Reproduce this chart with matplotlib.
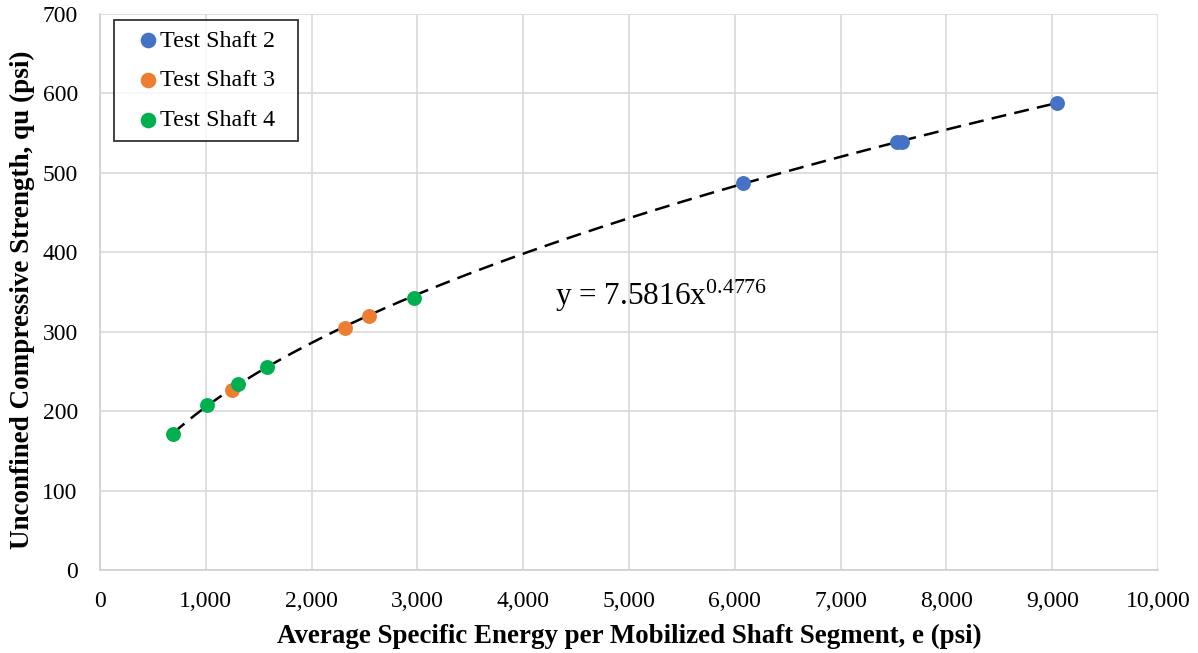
import matplotlib
matplotlib.use("Agg")
import matplotlib.pyplot as plt
import numpy as np

plt.rcParams['font.family'] = ['Liberation Serif', 'DejaVu Serif']
plt.rcParams['mathtext.fontset'] = 'custom'
plt.rcParams['mathtext.rm'] = 'Liberation Serif'
plt.rcParams['mathtext.it'] = 'Liberation Serif:italic'
plt.rcParams['mathtext.bf'] = 'Liberation Serif:bold'

ts2_x = [6078, 7533, 7585, 9045]
ts2_y = [487, 539, 539, 588]
ts3_x = [1248, 2316, 2543]
ts3_y = [227, 305, 320]
ts4_x = [690, 1011, 1304, 1578, 2968]
ts4_y = [171, 208, 234, 256, 343]

fit_a = 7.5816
fit_b = 0.4776
fit_xmin, fit_xmax = 690, 9045

x_ticks = list(range(0, 10001, 1000))
y_ticks = list(range(0, 701, 100))

fig = plt.figure(figsize=(11.98, 6.53), dpi=100)
ax = fig.add_axes([100/1198, 1-570/653, 1058/1198, 556/653])

xf = np.linspace(fit_xmin, fit_xmax, 300)
ax.plot(xf, fit_a * xf**fit_b, color='black', linestyle=(0, (6, 3.3)), linewidth=1.8, zorder=2)

ms = 115
ax.scatter(ts2_x, ts2_y, s=ms, color='#4472C4', label='Test Shaft 2', zorder=3, linewidths=0)
ax.scatter(ts3_x, ts3_y, s=ms, color='#ED7D31', label='Test Shaft 3', zorder=3, linewidths=0)
ax.scatter(ts4_x, ts4_y, s=ms, color='#00B050', label='Test Shaft 4', zorder=4, linewidths=0)

ax.set_xlim(0, 10000)
ax.set_ylim(0, 700)
ax.set_xticks(x_ticks)
ax.set_yticks(y_ticks)
ax.set_xticklabels([f"{v:,}" for v in x_ticks])
ax.set_yticklabels([str(v) for v in y_ticks])
ax.tick_params(axis='both', length=0, labelsize=17)
ax.tick_params(axis='x', pad=15)
ax.tick_params(axis='y', pad=16)
ax.grid(True, color='#d9d9d9', linewidth=1.2)
ax.set_axisbelow(True)
for s in ['top', 'right']:
    ax.spines[s].set_visible(False)
for s in ['left', 'bottom']:
    ax.spines[s].set_color('#d0d0d0')
    ax.spines[s].set_linewidth(1.2)

ax.set_xlabel('Average Specific Energy per Mobilized Shaft Segment, e (psi)', fontsize=19.4, fontweight='bold', labelpad=9)
ax.set_ylabel('Unconfined Compressive Strength, qu (psi)', fontsize=19.5, fontweight='bold', labelpad=0)
ax.yaxis.set_label_coords(-0.061, 0.486)

ax.text(4300, 345, r'y = 7.5816x$^{\mathrm{0.4776}}$', fontsize=22.5, va='center', ha='left')

leg = ax.legend(loc='upper left', bbox_to_anchor=(14/1058, 1-6/556, 184/1058, 0.0), mode='expand',
                fontsize=17.4, frameon=True,
                fancybox=False, edgecolor='black', handlelength=2.0, handletextpad=-0.48,
                borderpad=0.4, borderaxespad=0, labelspacing=0.74, markerscale=1.05)
leg.get_frame().set_linewidth(1.3)

fig.savefig('out.png', dpi=100)
